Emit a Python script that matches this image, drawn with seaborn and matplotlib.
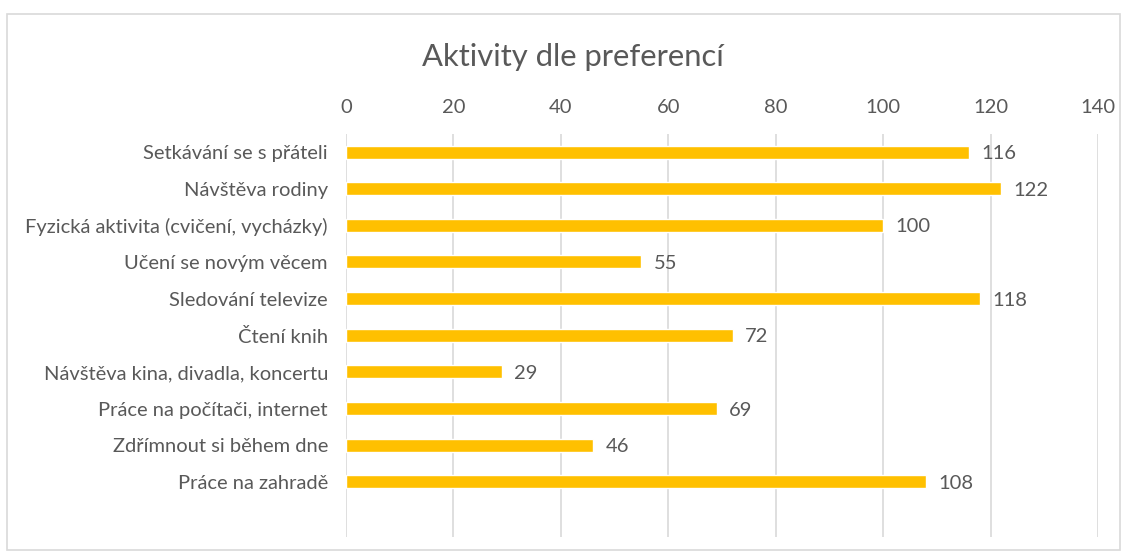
import pandas as pd
import matplotlib.pyplot as plt
import seaborn as sns
from matplotlib.patches import Rectangle

# Data
activities = [
    "Setkávání se s přáteli",
    "Návštěva rodiny",
    "Fyzická aktivita (cvičení, vycházky)",
    "Učení se novým věcem",
    "Sledování televize",
    "Čtení knih",
    "Návštěva kina, divadla, koncertu",
    "Práce na počítači, internet",
    "Zdřímnout si během dne",
    "Práce na zahradě",
]
counts = [116, 122, 100, 55, 118, 72, 29, 69, 46, 108]
x_ticks = [0, 20, 40, 60, 80, 100, 120, 140]

df = pd.DataFrame({"Aktivita": activities, "Počet": counts})

sns.set_theme(style="white")
plt.rcParams["font.family"] = ["Lato", "DejaVu Sans"]

text_color = "#595959"
grid_color = "#D9D9D9"
fs = 14.5

fig = plt.figure(figsize=(11.3, 5.57), dpi=100)
ax = fig.add_axes([0.3062, 0.036, 0.6655, 0.724])

sns.barplot(data=df, x="Počet", y="Aktivita", orient="h",
            color="#FFC000", saturation=1, width=0.355, ax=ax)

ax.set_xlim(0, 140)
ax.set_ylim(10.5, -0.5)
ax.set_xticks(x_ticks)
ax.xaxis.tick_top()
ax.tick_params(axis="x", length=0, pad=13, labelsize=fs, labelcolor=text_color)
ax.tick_params(axis="y", length=0, pad=13, labelsize=fs, labelcolor=text_color)
ax.set_xlabel("")
ax.set_ylabel("")
ax.grid(axis="x", color=grid_color, linewidth=1.2)
ax.set_axisbelow(True)
for s in ax.spines.values():
    s.set_visible(False)

for i, v in enumerate(counts):
    ax.annotate(str(v), xy=(v, i), xytext=(9, 0), textcoords="offset points",
                va="center_baseline", ha="left", fontsize=fs, color=text_color)

fig.text(0.507, 0.898, "Aktivity dle preferencí", ha="center", va="center",
         fontsize=22.3, color=text_color)

# chart border
fig.patches.append(Rectangle((0.006, 0.012), 0.985, 0.963, transform=fig.transFigure,
                             fill=False, edgecolor=grid_color, linewidth=1.2))

plt.savefig("out.png", dpi=100)
